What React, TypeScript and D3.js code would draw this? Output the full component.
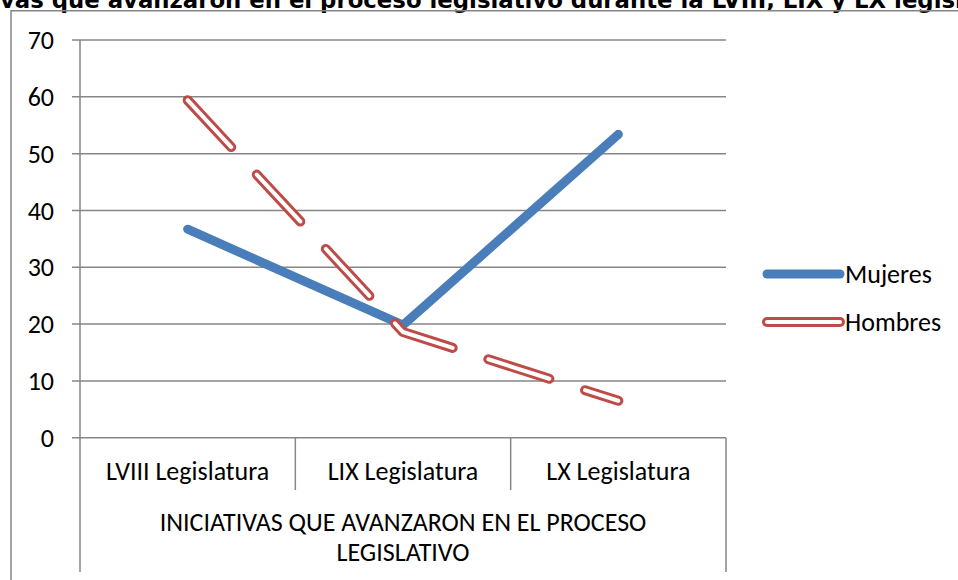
import { useEffect, useRef } from "react"
import * as d3 from "d3"

const titleText = "Iniciativas que avanzaron en el proceso legislativo durante la LVIII, LIX y LX legislaturas"
const categories = ["LVIII Legislatura", "LIX Legislatura", "LX Legislatura"]
const groupLabel = ["INICIATIVAS QUE AVANZARON EN EL PROCESO", "LEGISLATIVO"]
const mujeres = [36.7, 19.8, 53.4]
const hombres = [59.4, 18.6, 6.5]
const yTicks = [0, 10, 20, 30, 40, 50, 60, 70]
const seriesNames = ["Mujeres", "Hombres"]

const W = 958
const H = 580
const FONT = "Carlito, Lato, sans-serif"
const FS = 26
const GRID = "#868686"
const BLUE = "#4a7ebb"
const RED = "#be4b48"

export default function App() {
  const svgRef = useRef<SVGSVGElement>(null)

  useEffect(() => {
    if (!svgRef.current) return
    const svg = d3.select(svgRef.current)
    svg.selectAll("*").remove()

    svg.append("rect").attr("width", W).attr("height", H).attr("fill", "#fff")

    // title is cut by the top/sides of the image, as in the original
    const title = svg
      .append("text")
      .attr("y", 8)
      .attr("font-family", "DejaVu Sans, sans-serif")
      .attr("font-weight", "bold")
      .attr("font-size", 22.8)
      .attr("fill", "#000")
      .text(titleText)
    const tn = title.node() as SVGTextElement
    const prefix = tn.getSubStringLength(0, 8)
    title.attr("x", -prefix)

    // outer frame
    svg
      .append("path")
      .attr("d", `M11,${H} V10.7 H${W}`)
      .attr("fill", "none")
      .attr("stroke", GRID)
      .attr("stroke-width", 1.5)

    const x = d3.scaleBand<string>().domain(categories).range([80, 726])
    const y = d3.scaleLinear().domain([0, 70]).range([437.7, 40])
    const cx = (c: string) => (x(c) as number) + x.bandwidth() / 2

    // gridlines
    svg
      .append("g")
      .selectAll("line")
      .data(yTicks)
      .join("line")
      .attr("x1", 72)
      .attr("x2", 726)
      .attr("y1", (d) => y(d))
      .attr("y2", (d) => y(d))
      .attr("stroke", GRID)
      .attr("stroke-width", 1.5)

    svg
      .append("g")
      .selectAll("text")
      .data(yTicks)
      .join("text")
      .attr("x", 54)
      .attr("y", (d) => y(d))
      .attr("dy", "0.35em")
      .attr("text-anchor", "end")
      .attr("font-family", FONT)
      .attr("font-size", FS)
      .attr("fill", "#000")
      .text((d) => d)

    // axis + category dividers
    svg.append("line").attr("x1", 80).attr("x2", 80).attr("y1", y(70)).attr("y2", 572).attr("stroke", GRID).attr("stroke-width", 1.5)
    svg.append("line").attr("x1", 726).attr("x2", 726).attr("y1", y(0)).attr("y2", 572).attr("stroke", GRID).attr("stroke-width", 1.5)
    svg
      .append("g")
      .selectAll("line")
      .data(categories.slice(1))
      .join("line")
      .attr("x1", (d) => x(d) as number)
      .attr("x2", (d) => x(d) as number)
      .attr("y1", y(0))
      .attr("y2", 490)
      .attr("stroke", GRID)
      .attr("stroke-width", 1.5)

    svg
      .append("g")
      .selectAll("text")
      .data(categories)
      .join("text")
      .attr("x", (d) => cx(d))
      .attr("y", 480)
      .attr("text-anchor", "middle")
      .attr("font-family", FONT)
      .attr("font-size", FS)
      .attr("fill", "#000")
      .text((d) => d)

    svg
      .append("g")
      .selectAll("text")
      .data(groupLabel)
      .join("text")
      .attr("x", 403)
      .attr("y", (d, i) => 531 + i * 30)
      .attr("text-anchor", "middle")
      .attr("font-family", FONT)
      .attr("font-size", FS)
      .attr("fill", "#000")
      .text((d) => d)

    const line = d3
      .line<number>()
      .x((d, i) => cx(categories[i]))
      .y((d) => y(d))

    svg
      .append("path")
      .attr("d", line(mujeres))
      .attr("fill", "none")
      .attr("stroke", BLUE)
      .attr("stroke-width", 9)
      .attr("stroke-linecap", "round")
      .attr("stroke-linejoin", "round")

    // double dashed line for Hombres
    const redStrokes = [
      { c: RED, w: 10 },
      { c: "#fff", w: 4 },
    ]
    redStrokes.forEach((s) => {
      svg
        .append("path")
        .attr("d", line(hombres))
        .attr("fill", "none")
        .attr("stroke", s.c)
        .attr("stroke-width", s.w)
        .attr("stroke-dasharray", "64 37.5")
        .attr("stroke-linecap", "round")
        .attr("stroke-linejoin", "round")
    })

    // legend
    const legend = svg
      .append("g")
      .selectAll("g")
      .data(seriesNames)
      .join("g")
      .attr("transform", (d, i) => `translate(0,${274 + i * 48})`)

    legend.each(function (d) {
      const g = d3.select(this)
      const strokes = d === "Mujeres" ? [{ c: BLUE, w: 9 }] : redStrokes
      strokes.forEach((s) => {
        g.append("line")
          .attr("x1", 767)
          .attr("x2", 840)
          .attr("stroke", s.c)
          .attr("stroke-width", s.w)
          .attr("stroke-linecap", "round")
      })
      g.append("text")
        .attr("x", 845)
        .attr("dy", "0.35em")
        .attr("font-family", FONT)
        .attr("font-size", FS)
        .attr("fill", "#000")
        .text(d)
    })
  }, [])

  return (
    <svg
      ref={svgRef}
      width={W}
      height={H}
      style={{ position: "absolute", left: 0, top: 0, display: "block" }}
    ></svg>
  )
}
